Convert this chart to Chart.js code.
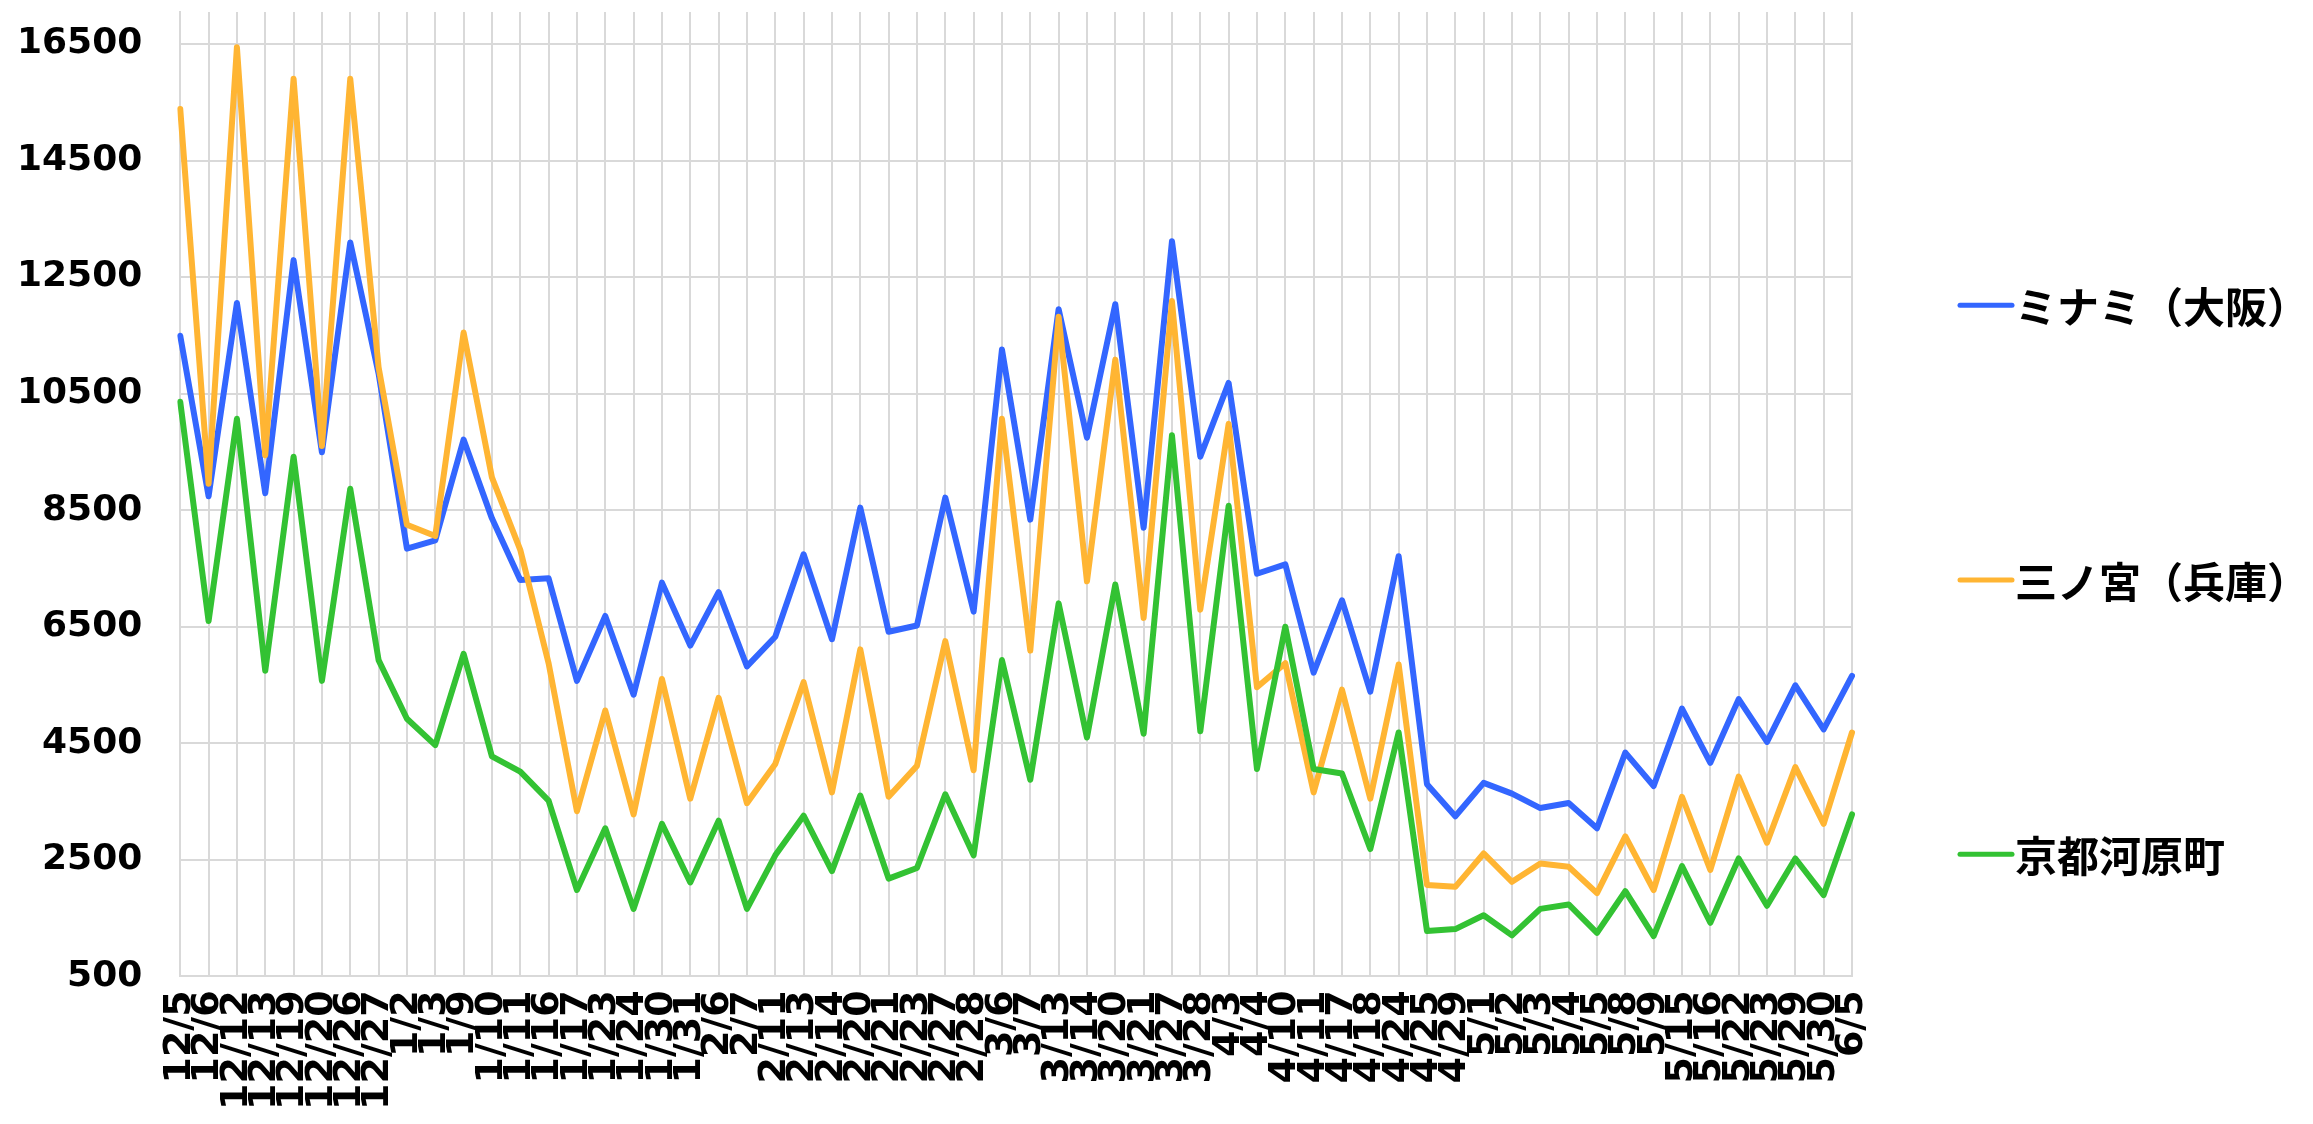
<!DOCTYPE html>
<html>
<head>
<meta charset="utf-8">
<script src="https://cdn.jsdelivr.net/npm/chart.js@4.4.0/dist/chart.umd.min.js"></script>
<style>
  html, body { margin: 0; padding: 0; background: #fff; }
  #wrap { width: 2313px; height: 1124px; }
</style>
</head>
<body>
<div id="wrap"><canvas id="chart"></canvas></div>
<script>
const dates = ["12/5","12/6","12/12","12/13","12/19","12/20","12/26","12/27",
  "1/2","1/3","1/9","1/10","1/11","1/16","1/17","1/23","1/24","1/30","1/31",
  "2/6","2/7","2/11","2/13","2/14","2/20","2/21","2/23","2/27","2/28",
  "3/6","3/7","3/13","3/14","3/20","3/21","3/27","3/28",
  "4/3","4/4","4/10","4/11","4/17","4/18","4/24","4/25","4/29",
  "5/1","5/2","5/3","5/4","5/5","5/8","5/9","5/15","5/16","5/22","5/23","5/29","5/30",
  "6/5"];

const minami = [11495, 8738, 12057, 8792, 12792, 9495, 13095, 10846, 7841, 7981,
  9711, 8360, 7301, 7333, 5571, 6685, 5333, 7257, 6176, 7095,
  5820, 6328, 7744, 6285, 8544, 6414, 6522, 8717, 6760, 11257,
  8338, 11949, 9744, 12035, 8198, 13117, 9419, 10684, 7409, 7571,
  5712, 6955, 5387, 7711, 3798, 3247, 3820, 3636, 3388, 3474,
  3041, 4339, 3766, 5095, 4166, 5258, 4523, 5495, 4739, 5657];

const sannomiya = [15386, 8954, 16446, 9441, 15905, 9603, 15905, 10954, 8251, 8057,
  11549, 9063, 7820, 5874, 3333, 5063, 3279, 5604, 3549, 5279,
  3473, 4144, 5549, 3657, 6112, 3582, 4112, 6253, 4036, 10068,
  6090, 11819, 7279, 11084, 6652, 12090, 6793, 9982, 5463, 5874,
  3657, 5420, 3549, 5852, 2069, 2036, 2609, 2123, 2436, 2382,
  1928, 2901, 1982, 3582, 2328, 3928, 2793, 4090, 3117, 4685];

const kawaramachi = [10360, 6598, 10068, 5744, 9419, 5571, 8868, 5928, 4922, 4468,
  6036, 4274, 4014, 3517, 1982, 3041, 1658, 3117, 2112, 3171,
  1658, 2577, 3258, 2306, 3604, 2177, 2360, 3625, 2577, 5928,
  3874, 6901, 4598, 7225, 4663, 9787, 4706, 8576, 4058, 6501,
  4058, 3982, 2685, 4685, 1279, 1311, 1549, 1203, 1658, 1734,
  1246, 1961, 1192, 2393, 1420, 2523, 1712, 2523, 1895, 3279];

const seriesNames = ["ミナミ（大阪）", "三ノ宮（兵庫）", "京都河原町"];
const yTicks = [500, 2500, 4500, 6500, 8500, 10500, 12500, 14500, 16500];

// legend drawn by hand on the right, one row per series
const sideLegend = {
  id: "sideLegend",
  afterDraw(chart) {
    const ctx = chart.ctx;
    const area = chart.chartArea;
    const rows = [0.2715, 0.516, 0.76];
    ctx.save();
    ctx.font = "bold 42px 'Noto Sans CJK JP'";
    ctx.textBaseline = "middle";
    chart.data.datasets.forEach((ds, i) => {
      const y = chart.height * rows[i];
      const x = area.right + 108;
      ctx.strokeStyle = ds.borderColor;
      ctx.lineWidth = 5;
      ctx.lineCap = "round";
      ctx.beginPath();
      ctx.moveTo(x, y);
      ctx.lineTo(x + 52, y);
      ctx.stroke();
      ctx.fillStyle = "#000";
      ctx.fillText(ds.label, x + 55, y + 2);
    });
    ctx.restore();
  }
};

function line(label, data, color, order) {
  return {
    label: label,
    data: data,
    borderColor: color,
    backgroundColor: color,
    borderWidth: 6,
    borderCapStyle: "round",
    borderJoinStyle: "round",
    pointRadius: 0,
    tension: 0,
    order: order
  };
}

new Chart(document.getElementById("chart"), {
  type: "line",
  data: {
    labels: dates,
    datasets: [
      line(seriesNames[0], minami, "#3366ff", 3),
      line(seriesNames[1], sannomiya, "#ffb533", 2),
      line(seriesNames[2], kawaramachi, "#33c233", 1)
    ]
  },
  options: {
    responsive: true,
    maintainAspectRatio: false,
    animation: false,
    layout: { padding: { left: 14, top: 12, right: 461, bottom: 0 } },
    plugins: {
      legend: { display: false },
      tooltip: { enabled: false }
    },
    scales: {
      x: {
        grid: { color: "#d9d9d9", lineWidth: 2, drawTicks: false },
        border: { color: "#d9d9d9", width: 2 },
        ticks: {
          autoSkip: false,
          minRotation: 90,
          maxRotation: 90,
          padding: 14,
          color: "#000",
          font: { family: "'DejaVu Sans'", size: 38, weight: "bold" }
        }
      },
      y: {
        min: 500,
        max: 17050,
        afterBuildTicks: (scale) => { scale.ticks = yTicks.map(v => ({ value: v })); },
        afterFit: (scale) => { scale.paddingTop = 0; scale.paddingBottom = 0; },
        grid: { color: "#d9d9d9", lineWidth: 2, drawTicks: true, tickLength: 35, tickColor: "rgba(0,0,0,0)" },
        border: { color: "#d9d9d9", width: 2 },
        ticks: {
          padding: 3,
          color: "#000",
          font: { family: "'DejaVu Sans'", size: 36, weight: "bold" },
          callback: (value) => String(value)
        }
      }
    }
  },
  plugins: [sideLegend]
});
</script>
</body>
</html>
